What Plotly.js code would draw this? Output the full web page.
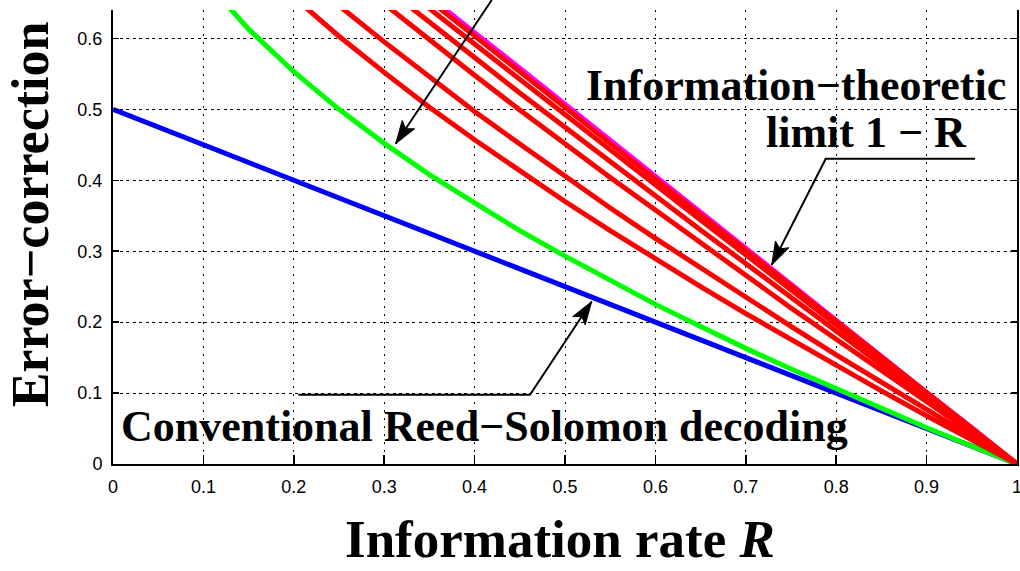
<!DOCTYPE html>
<html>
<head>
<meta charset="utf-8">
<script src="https://cdn.plot.ly/plotly-3.0.1.min.js"></script>
<style>html,body{margin:0;padding:0;background:#fff;}#chart{width:1020px;height:571px;}</style>
</head>
<body>
<div id="chart"></div>
<script>
// Information rate R (x values)
const rate = [0.0, 0.05, 0.1, 0.15, 0.2, 0.25, 0.3, 0.35, 0.4, 0.45, 0.5, 0.55, 0.6, 0.65, 0.7, 0.75, 0.8, 0.85, 0.9, 0.95, 1.0];
// Conventional Reed-Solomon decoding (blue)
const reedSolomon = [0.5, 0.475, 0.45, 0.425, 0.4, 0.375, 0.35, 0.325, 0.3, 0.275, 0.25, 0.225, 0.2, 0.175, 0.15, 0.125, 0.1, 0.075, 0.05, 0.025, 0.0];
// Green curve
const greenCurve = [1.0, 0.776, 0.684, 0.613, 0.553, 0.5, 0.452, 0.408, 0.368, 0.329, 0.293, 0.258, 0.225, 0.194, 0.163, 0.134, 0.106, 0.078, 0.051, 0.025, 0.0];
// Information-theoretic limit 1 - R (magenta, as drawn)
const limitLine = [1.014, 0.963, 0.913, 0.862, 0.811, 0.761, 0.710, 0.659, 0.608, 0.558, 0.507, 0.456, 0.406, 0.355, 0.304, 0.254, 0.203, 0.152, 0.101, 0.051, 0.0];
// Red curves (bottom to top)
const red1 = [1.0, 0.864, 0.785, 0.718, 0.658, 0.603, 0.552, 0.503, 0.457, 0.413, 0.370, 0.329, 0.289, 0.250, 0.212, 0.175, 0.138, 0.103, 0.068, 0.034, 0.0];
const red2 = [1.0, 0.890, 0.822, 0.759, 0.701, 0.646, 0.595, 0.545, 0.497, 0.451, 0.405, 0.361, 0.318, 0.276, 0.235, 0.194, 0.154, 0.115, 0.076, 0.038, 0.0];
const red3 = [1.0, 0.925, 0.864, 0.806, 0.752, 0.699, 0.648, 0.597, 0.548, 0.499, 0.451, 0.404, 0.358, 0.311, 0.266, 0.220, 0.176, 0.131, 0.087, 0.043, 0.0];
const red4 = [1.0, 0.938, 0.882, 0.828, 0.775, 0.724, 0.673, 0.622, 0.573, 0.523, 0.474, 0.426, 0.378, 0.330, 0.282, 0.234, 0.187, 0.140, 0.093, 0.047, 0.0];
const red5 = [1.0, 0.946, 0.895, 0.843, 0.793, 0.742, 0.692, 0.642, 0.592, 0.542, 0.492, 0.443, 0.393, 0.344, 0.295, 0.245, 0.196, 0.147, 0.098, 0.049, 0.0];
const red6 = [1.005, 0.955, 0.905, 0.854, 0.804, 0.754, 0.704, 0.653, 0.603, 0.553, 0.503, 0.452, 0.402, 0.352, 0.302, 0.251, 0.201, 0.151, 0.101, 0.050, 0.0];
const redCurves = [red1, red2, red3, red4, red5, red6];

// Tick values / labels
const xTicks = [0, 0.1, 0.2, 0.3, 0.4, 0.5, 0.6, 0.7, 0.8, 0.9, 1];
const xTickText = ['0', '0.1', '0.2', '0.3', '0.4', '0.5', '0.6', '0.7', '0.8', '0.9', '1'];
const yTicks = [0, 0.1, 0.2, 0.3, 0.4, 0.5, 0.6];
const yTickText = ['0', '0.1', '0.2', '0.3', '0.4', '0.5', '0.6'];

const xTitle = 'Information rate <i>R</i>';
const yTitle = 'Error\u2212correction';
const labelLimit1 = 'Information\u2212theoretic';
const labelLimit2 = 'limit 1 \u2212 R';
const labelRS = 'Conventional Reed\u2212Solomon decoding';

const W = 1020, H = 571;
const M = {l: 113, r: 3, t: 10, b: 107};
const xRange = [0, 1];
const yRange = [0, 0.64];

const serif = 'Liberation Serif, Times New Roman, serif';
const sans = 'Liberation Sans, Arial, sans-serif';

function lineTrace(y, color) {
  return {x: rate, y: y, type: 'scatter', mode: 'lines', line: {color: color, width: 5}, hoverinfo: 'skip', showlegend: false};
}

const traces = [];
traces.push(lineTrace(limitLine, '#ff00ff'));
traces.push(lineTrace(reedSolomon, '#0000ff'));
traces.push(lineTrace(greenCurve, '#00ff00'));
redCurves.forEach(c => traces.push(lineTrace(c, '#ff0000')));

// arrow helper: pixel-sized arrowhead anchored at tip
function arrowHead(tip, from) {
  const pw = W - M.l - M.r, ph = H - M.t - M.b;
  const dx = (from[0] - tip[0]) / (xRange[1] - xRange[0]) * pw;
  const dy = (from[1] - tip[1]) / (yRange[1] - yRange[0]) * ph;
  const L = Math.hypot(dx, dy);
  const ux = dx / L, uy = dy / L;
  const len = 23, half = 7.5, notch = 5;
  const px = -uy, py = ux;
  const bx = ux * len, by = uy * len;
  const p1 = [(bx + px * half).toFixed(2), (by + py * half).toFixed(2)];
  const p2 = [(ux * (len - notch)).toFixed(2), (uy * (len - notch)).toFixed(2)];
  const p3 = [(bx - px * half).toFixed(2), (by - py * half).toFixed(2)];
  return {
    type: 'path', xref: 'x', yref: 'y', xsizemode: 'pixel', ysizemode: 'pixel',
    xanchor: tip[0], yanchor: tip[1],
    path: `M0,0 L${p1[0]},${p1[1]} L${p2[0]},${p2[1]} L${p3[0]},${p3[1]} Z`,
    fillcolor: '#000', line: {color: '#000', width: 1}
  };
}
// arrow line drawn in paper coordinates (so it may run past the plot top)
function arrowPath(points) {
  const toPaperX = v => (v - xRange[0]) / (xRange[1] - xRange[0]);
  const toPaperY = v => (v - yRange[0]) / (yRange[1] - yRange[0]);
  return {
    type: 'path', xref: 'paper', yref: 'paper',
    path: 'M' + points.map(p => toPaperX(p[0]).toFixed(4) + ',' + toPaperY(p[1]).toFixed(4)).join(' L'),
    line: {color: '#000', width: 2}
  };
}

// Arrow geometry (data coordinates)
const arrowGreen = [[0.419, 0.654], [0.3127, 0.4515]];
const arrowLimit = [[0.9535, 0.4304], [0.7884, 0.4304], [0.7287, 0.2807]];
const arrowRS = [[0.205, 0.0976], [0.4613, 0.0976], [0.5295, 0.229]];

const shapes = [
  arrowPath(arrowGreen), arrowHead(arrowGreen[1], arrowGreen[0]),
  arrowPath(arrowLimit), arrowHead(arrowLimit[2], arrowLimit[1]),
  arrowPath(arrowRS), arrowHead(arrowRS[2], arrowRS[1])
];

const labelFont = {family: serif, size: 44, color: '#000', weight: 'bold'};
const annotations = [
  {text: labelLimit1, x: 0.521, y: 0.534, xref: 'x', yref: 'y', xanchor: 'left', yanchor: 'middle', showarrow: false, font: labelFont},
  {text: labelLimit2, x: 0.7201, y: 0.4678, xref: 'x', yref: 'y', xanchor: 'left', yanchor: 'middle', showarrow: false, font: labelFont},
  {text: labelRS, x: 0.0066, y: 0.0523, xref: 'x', yref: 'y', xanchor: 'left', yanchor: 'middle', showarrow: false, font: labelFont},
  {text: xTitle, x: 0.4945, y: -0.166, xref: 'paper', yref: 'paper', xanchor: 'center', yanchor: 'middle', showarrow: false,
   font: {family: serif, size: 53, color: '#000', weight: 'bold'}},
  {text: yTitle, x: -0.0913, y: 0.551, xref: 'paper', yref: 'paper', xanchor: 'center', yanchor: 'middle', showarrow: false, textangle: -90,
   font: {family: serif, size: 52, color: '#000', weight: 'bold'}}
];

const layout = {
  width: W, height: H,
  margin: M,
  paper_bgcolor: '#fff', plot_bgcolor: '#fff',
  showlegend: false,
  xaxis: {
    range: xRange, tickvals: xTicks, ticktext: xTickText,
    showline: true, linecolor: '#000', linewidth: 2, mirror: false,
    ticks: 'inside', ticklen: 9, tickwidth: 1.5, tickcolor: '#000',
    showgrid: true, gridcolor: '#000', gridwidth: 1, griddash: '2px,6px',
    zeroline: false, ticklabelstandoff: 5, ticklabeloverflow: 'allow',
    tickfont: {family: sans, size: 18, color: '#000'},
    fixedrange: true
  },
  yaxis: {
    range: yRange, tickvals: yTicks, ticktext: yTickText,
    showline: true, linecolor: '#000', linewidth: 2, mirror: 'ticks',
    ticks: 'inside', ticklen: 6, tickwidth: 1.5, tickcolor: '#000',
    showgrid: true, gridcolor: '#000', gridwidth: 1, griddash: '3px,3.5px',
    zeroline: false, ticklabelstandoff: 5,
    tickfont: {family: sans, size: 18, color: '#000'},
    fixedrange: true
  },
  shapes: shapes,
  annotations: annotations
};

Plotly.newPlot('chart', traces, layout, {staticPlot: true, displayModeBar: false});
</script>
</body>
</html>
